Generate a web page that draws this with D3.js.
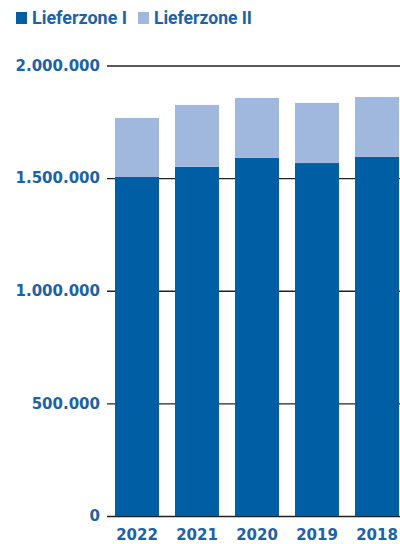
<!DOCTYPE html>
<html>
<head>
<meta charset="utf-8">
<script src="https://cdn.jsdelivr.net/npm/d3@7"></script>
<style>
  body { margin: 0; background: #fff; }
  svg { display: block; }
</style>
</head>
<body>
<div id="chart"></div>
<script>
let years = ["2022", "2021", "2020", "2019", "2018"];
let zone1 = [1505000, 1550000, 1590000, 1567000, 1594000];
let zone2 = [262000, 275000, 266000, 267000, 266000];
let seriesNames = ["Lieferzone I", "Lieferzone II"];
let yTicks = [0, 500000, 1000000, 1500000, 2000000];

let width = 400;
let height = 544;
let colors = ["#005ea5", "#a0b8de"];
let textColor = "#1c62a6";

let rows = years.map((y, i) => ({year: y, z1: zone1[i], z2: zone2[i]}));
let stack = d3.stack().keys(["z1", "z2"])(rows);

let x = d3.scaleBand()
  .domain(years)
  .range([107, 407])
  .paddingInner(16 / 60)
  .paddingOuter(8 / 60);

let y = d3.scaleLinear()
  .domain([0, 2000000])
  .range([516, 65.5]);

let fmt = d3.formatLocale({decimal: ",", thousands: ".", grouping: [3], currency: ["", "€"]}).format(",d");

let svg = d3.select("#chart").append("svg")
  .attr("width", width)
  .attr("height", height);

// grid lines
let yAxis = svg.append("g")
  .attr("transform", "translate(107,0)")
  .call(d3.axisLeft(y).tickValues(yTicks).tickFormat(fmt).tickSize(-(width - 107)).tickPadding(7));
yAxis.select(".domain").remove();
yAxis.selectAll("line").attr("stroke", "#222").attr("stroke-width", 1.4);
yAxis.selectAll("text")
  .attr("fill", textColor)
  .style("font-family", "'DejaVu Sans', Verdana, sans-serif")
  .style("font-weight", "bold")
  .style("font-size", "15px");

// bars
svg.append("g").selectAll("g")
  .data(stack)
  .enter()
  .append("g")
  .attr("fill", (d, i) => colors[i])
  .selectAll("rect")
  .data(d => d)
  .enter()
  .append("rect")
  .attr("x", d => x(d.data.year))
  .attr("width", x.bandwidth())
  .attr("y", d => y(d[1]))
  .attr("height", d => y(d[0]) - y(d[1]));

// x labels
let xAxis = svg.append("g")
  .attr("transform", "translate(0,516)")
  .call(d3.axisBottom(x).tickSize(0).tickPadding(13));
xAxis.select(".domain").remove();
xAxis.selectAll("text")
  .attr("fill", textColor)
  .style("font-family", "'DejaVu Sans', Verdana, sans-serif")
  .style("font-weight", "bold")
  .style("font-size", "15px");

// legend
let legend = svg.append("g").attr("transform", "translate(16,11)");
let lx = [0, 122];
let lw = [95, 98];
seriesNames.forEach((name, i) => {
  let g = legend.append("g").attr("transform", "translate(" + lx[i] + ",0)");
  g.append("rect").attr("width", 11).attr("height", 12).attr("y", 1).attr("fill", colors[i]);
  g.append("text")
    .attr("x", 16)
    .attr("y", 13)
    .attr("fill", textColor)
    .attr("textLength", lw[i])
    .attr("lengthAdjust", "spacingAndGlyphs")
    .style("font-family", "Roboto, sans-serif")
    .style("font-weight", "bold")
    .style("font-size", "18px")
    .text(name);
});
</script>
</body>
</html>
